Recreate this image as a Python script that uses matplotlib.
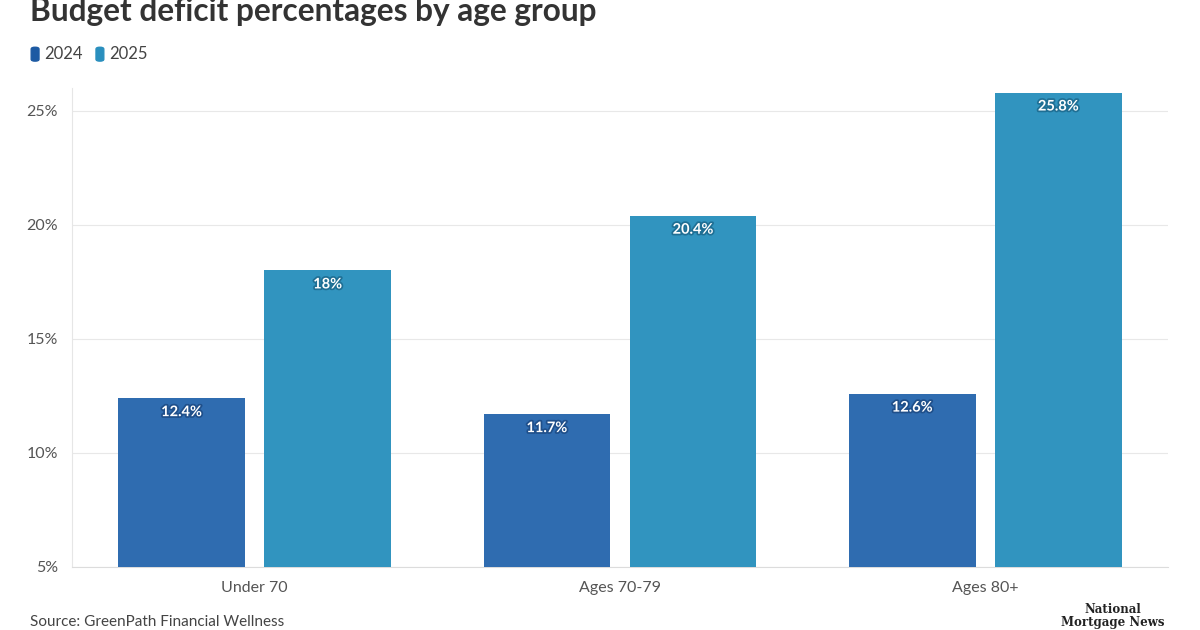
import matplotlib
matplotlib.use("Agg")
import matplotlib.pyplot as plt
import matplotlib.patheffects as pe
import numpy as np

categories = ["Under 70", "Ages 70-79", "Ages 80+"]
series_names = ["2024", "2025"]
values_2024 = [12.4, 11.7, 12.6]
values_2025 = [18.0, 20.4, 25.8]
labels_2024 = ["12.4%", "11.7%", "12.6%"]
labels_2025 = ["18%", "20.4%", "25.8%"]
yticks = [5, 10, 15, 20, 25]
ytick_labels = ["5%", "10%", "15%", "20%", "25%"]

colors = ["#2f6cb0", "#3194bf"]
legend_colors = ["#1d5aa3", "#2a8fbe"]

plt.rcParams['font.family'] = ['Lato', 'DejaVu Sans']

fig = plt.figure(figsize=(12, 6.3), dpi=100)
ax = fig.add_axes([0.06, 0.1, 0.9133, 0.7603])

x = np.arange(len(categories))
w = 0.347
off = 0.2
base = 5
b1 = ax.bar(x - off, np.array(values_2024) - base, bottom=base, width=w, color=colors[0], zorder=3)
b2 = ax.bar(x + off, np.array(values_2025) - base, bottom=base, width=w, color=colors[1], zorder=3)

for bars, labs, col in [(b1, labels_2024, "#1f4f8a"), (b2, labels_2025, "#1f6f94")]:
    for rect, lab in zip(bars, labs):
        top = rect.get_y() + rect.get_height()
        t = ax.annotate(lab, (rect.get_x() + rect.get_width() / 2, top),
                        xytext=(0, -5), textcoords="offset points",
                        ha="center", va="top", color="white", fontsize=10.5,
                        fontweight="bold", zorder=4)
        t.set_path_effects([pe.withStroke(linewidth=2.5, foreground=col)])

ax.set_xlim(-0.5, 2.5)
ax.set_ylim(5, 26)
ax.set_yticks(yticks)
ax.set_yticklabels(ytick_labels)
ax.set_xticks(x)
ax.set_xticklabels(categories)
ax.grid(axis="y", color="#e8e8e8", linewidth=0.8, zorder=0)
for s in ["top", "right"]:
    ax.spines[s].set_visible(False)
ax.spines["left"].set_color("#e6e6e6")
ax.spines["bottom"].set_color("#dcdcdc")
ax.tick_params(axis="both", length=0, labelsize=11.5, labelcolor="#555555")
ax.tick_params(axis="y", pad=10)
ax.tick_params(axis="x", pad=10)

fig.text(0.025, 0.967, "Budget deficit percentages by age group", fontsize=22.8,
         fontweight="bold", color="#333333", ha="left", va="baseline")

# legend
lx = 0.025
for name, c in zip(series_names, legend_colors):
    fig.patches.append(matplotlib.patches.FancyBboxPatch(
        (lx + 0.001, 0.903), 0.0065, 0.022, boxstyle="round,pad=0,rounding_size=0.003",
        transform=fig.transFigure, color=c, figure=fig))
    fig.text(lx + 0.012, 0.914, name, fontsize=12, color="#444444", ha="left", va="center")
    lx += 0.054

fig.text(0.025, 0.002, "Source: GreenPath Financial Wellness", fontsize=11,
         color="#444444", ha="left", va="bottom")
fig.text(0.927, 0.002, "National\nMortgage News", fontsize=8.5, fontweight="bold",
         family="DejaVu Serif", color="#222222", ha="center", va="bottom",
         multialignment="center", linespacing=0.95)

fig.savefig("out.png", dpi=100)
